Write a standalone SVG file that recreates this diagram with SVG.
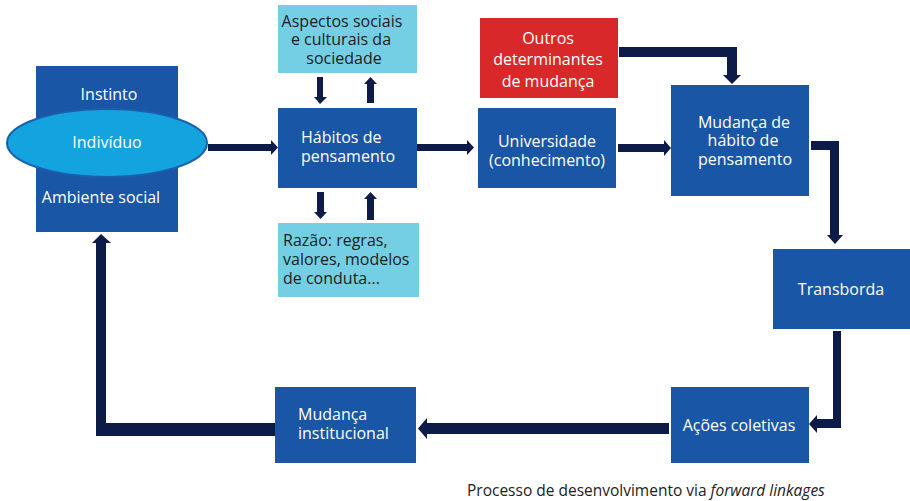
<svg xmlns="http://www.w3.org/2000/svg" width="910" height="501" viewBox="0 0 910 501">
<style>
.blue{fill:#1a56a6}
.light{fill:#74cfe5}
.red{fill:#d9282a}
.t{font-family:"Open Sans","Liberation Sans",sans-serif;font-size:16px;fill:#ffffff}
.d{fill:#1d1d1b}
.m{text-anchor:middle}
.conn path{fill:#0c1b47}
.cap{font-family:"Open Sans","Liberation Sans",sans-serif;font-size:15.5px;fill:#222222}
</style>
<rect width="910" height="501" fill="#ffffff"/>
<g id="n-individuo">
<rect class="blue" x="36" y="66" width="142" height="166"/>
<text class="t m" x="109" y="100">Instinto</text>
<ellipse cx="107" cy="143" rx="100" ry="34" fill="#13a3de" stroke="#1a5fae" stroke-width="2"/>
<text class="t m" x="107" y="148">Indivíduo</text>
<text class="t m" x="101" y="203">Ambiente social</text>
</g>
<g id="n-aspectos">
<rect class="light" x="278" y="5" width="139" height="68"/>
<text class="t d m" x="342" y="27">Aspectos sociais</text>
<text class="t d m" x="341" y="45">e culturais da</text>
<text class="t d m" x="344" y="64">sociedade</text>
</g>
<g id="n-habitos">
<rect class="blue" x="278" y="108" width="139" height="80"/>
<text class="t" x="301" y="143">Hábitos de</text>
<text class="t" x="301" y="162">pensamento</text>
</g>
<g id="n-razao">
<rect class="light" x="278" y="223" width="141" height="74"/>
<text class="t d" x="283" y="246">Razão: regras,</text>
<text class="t d" x="283" y="265">valores, modelos</text>
<text class="t d" x="283" y="284">de conduta...</text>
</g>
<g id="n-outros">
<rect class="red" x="480" y="18" width="138" height="80"/>
<text class="t m" x="548" y="44">Outros</text>
<text class="t m" x="548" y="65">determinantes</text>
<text class="t m" x="548" y="87">de mudança</text>
</g>
<g id="n-universidade">
<rect class="blue" x="478" y="108" width="138" height="80"/>
<text class="t m" x="547" y="147">Universidade</text>
<text class="t m" x="547" y="166">(conhecimento)</text>
</g>
<g id="n-mudanca-habito">
<rect class="blue" x="671" y="85" width="138" height="111"/>
<text class="t m" x="744" y="128">Mudança de</text>
<text class="t m" x="743" y="146">hábito de</text>
<text class="t m" x="745" y="165">pensamento</text>
</g>
<g id="n-transborda">
<rect class="blue" x="773" y="249" width="137" height="80"/>
<text class="t m" x="841" y="295">Transborda</text>
</g>
<g id="n-acoes">
<rect class="blue" x="671" y="387" width="138" height="76"/>
<text class="t m" x="739" y="431">Ações coletivas</text>
</g>
<g id="n-mudanca-inst">
<rect class="blue" x="275" y="387" width="141" height="76"/>
<text class="t" x="298" y="420">Mudança</text>
<text class="t" x="298" y="439">institucional</text>
</g>
<g id="connectors" class="conn">
<path d="M208,144 H271 V140 L278,147.5 L271,155 V151 H208 Z"/>
<path d="M417,144 H467 V140 L474,147.5 L467,155 V151 H417 Z"/>
<path d="M618,144 H664 V140 L671,148 L664,156 V152 H618 Z"/>
<path d="M619,47 H737 V75 H741 L732,84 L723,75 H727 V57 H619 Z"/>
<path d="M811,141 H839 V235 H843 L835,244 L827,235 H830 V150 H811 Z"/>
<path d="M833,331 H841 V428 H817 V433 L809,424 L817,415 V419 H833 Z"/>
<path d="M669,423 H427 V418 L418,428.5 L427,439 V434 H669 Z"/>
<path d="M275,423 H106 V243 H111 L101,234 L92,243 H96 V436 H275 Z"/>
<path d="M317,77 H323 V97 H327 L320,104 L314,97 H317 Z"/>
<path d="M367,103 H374 V84 H377 L370.5,77 L364,84 H367 Z"/>
<path d="M317,192 H324 V212 H327 L320.5,219 L314,212 H317 Z"/>
<path d="M367,220 H374 V199 H377 L370.5,192 L364,199 H367 Z"/>
</g>
<text class="cap" x="467" y="496">Processo de desenvolvimento via <tspan font-style="italic">forward linkages</tspan></text>
</svg>
